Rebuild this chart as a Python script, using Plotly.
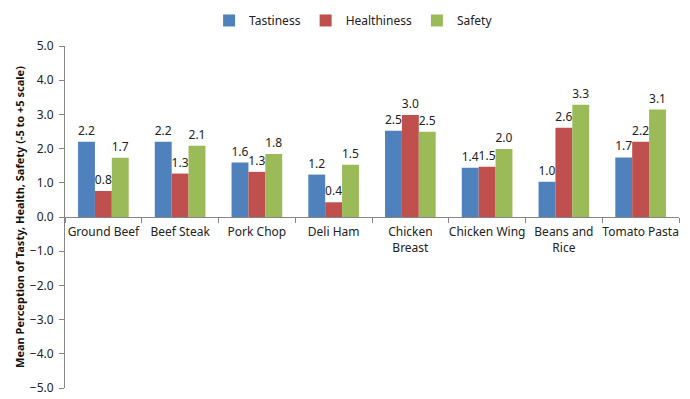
import plotly.graph_objects as go

categories = ["Ground Beef", "Beef Steak", "Pork Chop", "Deli Ham", "Chicken<br>Breast",
              "Chicken Wing", "Beans and<br>Rice", "Tomato Pasta"]
tastiness = [2.20, 2.20, 1.59, 1.24, 2.52, 1.44, 1.03, 1.74]
healthiness = [0.76, 1.27, 1.32, 0.43, 2.98, 1.47, 2.61, 2.20]
safety = [1.73, 2.08, 1.84, 1.53, 2.49, 1.99, 3.28, 3.14]
series_names = ["Tastiness", "Healthiness", "Safety"]
colors = ["#4F81BD", "#C0504D", "#9BBB59"]
y_ticks = [-5, -4, -3, -2, -1, 0, 1, 2, 3, 4, 5]

font_family = "Noto Sans, Open Sans, sans-serif"

fig = go.Figure()
for name, vals, col in zip(series_names, [tastiness, healthiness, safety], colors):
    fig.add_trace(go.Bar(
        x=categories, y=vals, name=name, marker_color=col, marker_line_width=0,
        text=[f"{v:.1f}" for v in vals], textposition="outside",
        textfont=dict(size=12, color="#222222", family=font_family),
        constraintext="none", cliponaxis=False,
    ))

fig.update_layout(
    width=690, height=399,
    margin=dict(l=65, r=11, t=46, b=11, autoexpand=False),
    paper_bgcolor="white", plot_bgcolor="white",
    barmode="group", bargap=0.34, bargroupgap=0,
    font=dict(family=font_family, size=12, color="#222222"),
    legend=dict(orientation="h", x=0.47, xanchor="center", y=0.985, yref="container",
                yanchor="top", font=dict(size=12), itemwidth=30, traceorder="normal",
                tracegroupgap=0),
    xaxis=dict(anchor="free", position=0.5, showline=True, linecolor="#868686",
               ticks="outside", ticklen=5, tickcolor="#868686", tickson="boundaries",
               showgrid=False, tickfont=dict(size=12), tickangle=0, ticklabelstandoff=4),
    yaxis=dict(range=[-5, 5], tickvals=y_ticks, tickformat=".1f", showline=True,
               linecolor="#868686", ticks="outside", ticklen=5, tickcolor="#868686",
               showgrid=False, zeroline=False, tickfont=dict(size=12), ticklabelstandoff=3),
    annotations=[dict(text="<b>Mean Perception of Tasty, Health, Safety (-5 to +5 scale)</b>",
                      xref="paper", yref="paper", x=-0.075, y=0.5, textangle=-90,
                      showarrow=False, font=dict(size=11, color="#111111"),
                      xanchor="center", yanchor="middle")],
)

fig.write_html("out.html", config={"displayModeBar": False},
               post_script="document.body.style.margin='0px';document.body.style.overflow='hidden';")
